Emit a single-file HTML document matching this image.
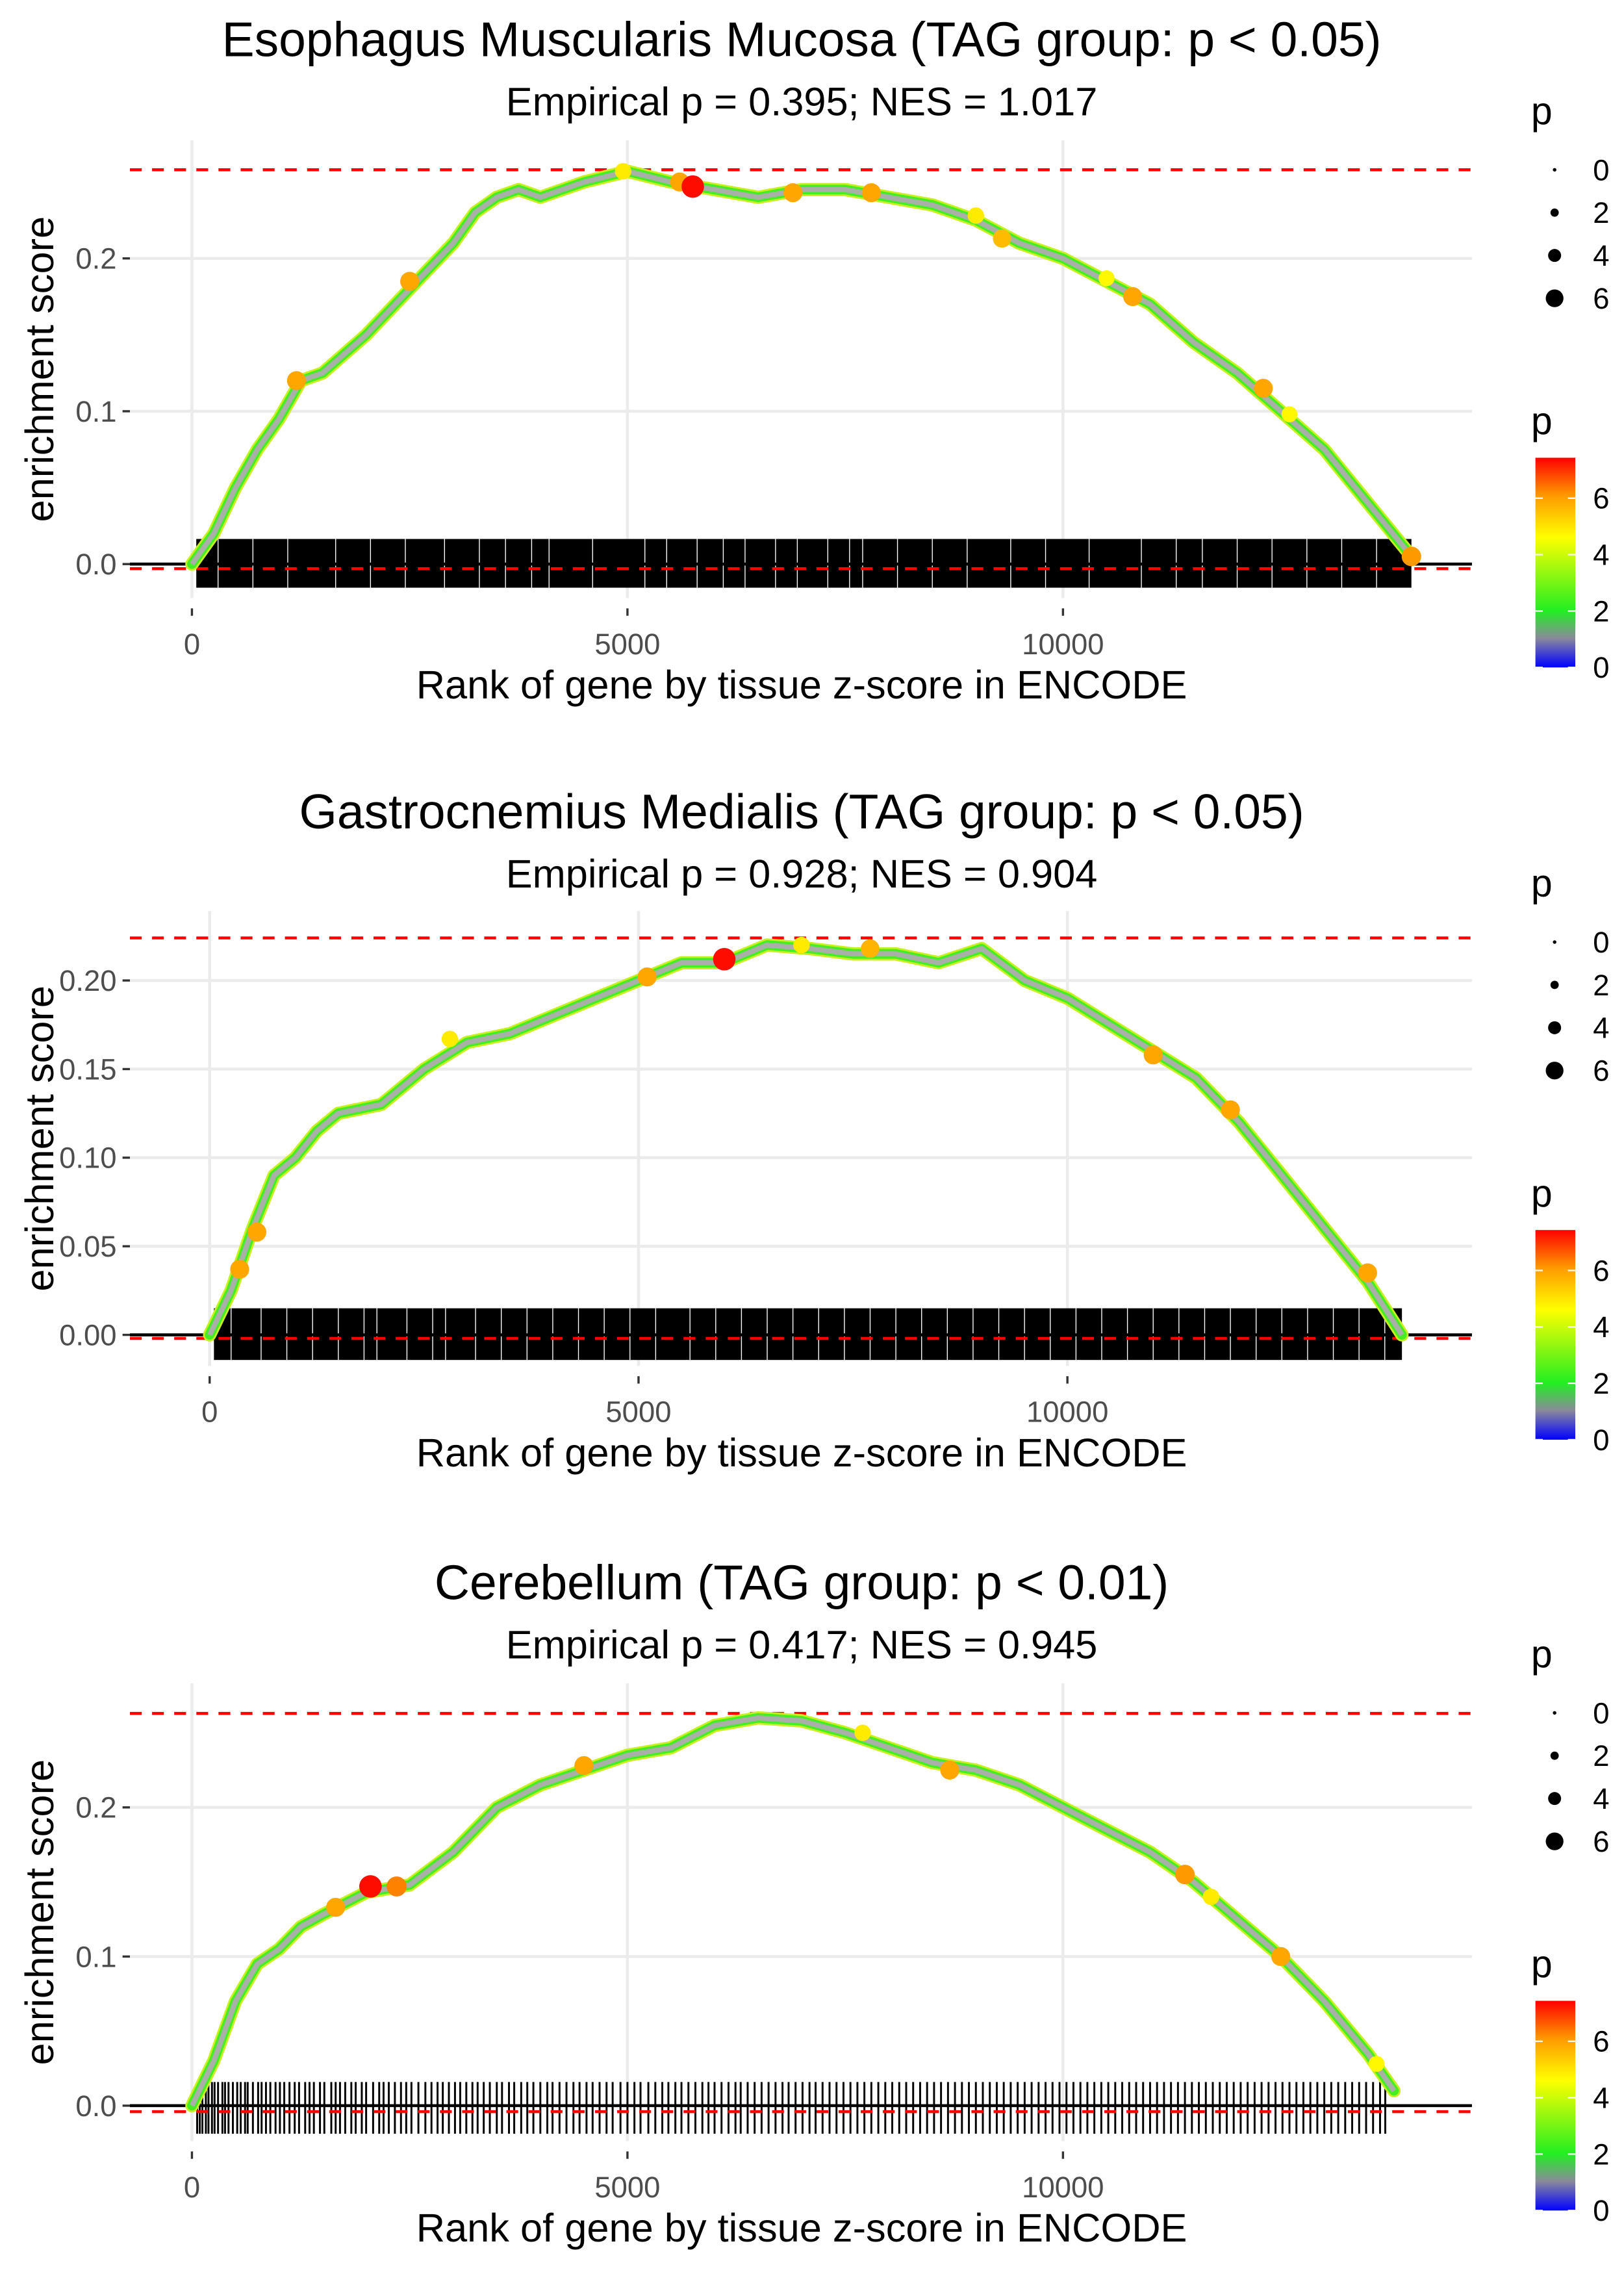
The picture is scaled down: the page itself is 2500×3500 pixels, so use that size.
<!DOCTYPE html>
<html><head><meta charset="utf-8"><style>
html,body{margin:0;padding:0;background:#fff;}
svg{display:block;font-family:"Liberation Sans",sans-serif;}
</style></head><body>
<svg id="chart" width="2500" height="3500" viewBox="0 0 1100 1540" preserveAspectRatio="none" xmlns="http://www.w3.org/2000/svg">
<defs>
<linearGradient id="pgrad" x1="0" y1="0" x2="0" y2="1">
<stop offset="0" stop-color="#ff0000"/><stop offset="0.18" stop-color="#ff9900"/><stop offset="0.38" stop-color="#ffff00"/><stop offset="0.73" stop-color="#22ee22"/><stop offset="0.86" stop-color="#8a8a9a"/><stop offset="1" stop-color="#0000ff"/>
</linearGradient>
</defs>
</svg>
<script>
// ---- Panel 1 data ----
const ranks1=[0,250,500,750,1000,1250,1500,2000,2500,3000,3250,3500,3750,4000,4500,5000,5500,6000,6500,7000,7500,8000,8500,9000,9500,10000,10500,11000,11500,12000,12500,13000,13500,14000];
const es1=[0,0.02,0.05,0.075,0.095,0.12,0.125,0.15,0.18,0.21,0.23,0.24,0.245,0.24,0.25,0.257,0.25,0.245,0.24,0.245,0.245,0.24,0.235,0.225,0.21,0.2,0.185,0.17,0.145,0.125,0.1,0.075,0.04,0.005];
const hiRank1=[1200,2500,4950,5600,5750,6900,7800,9000,9300,10500,10800,12300,12600,14000];
const hiEs1=[0.12,0.185,0.257,0.25,0.247,0.243,0.243,0.228,0.213,0.187,0.175,0.115,0.098,0.005];
const hiP1=[5.8,5.8,4.8,5.8,7.2,5.8,5.8,4.8,5.5,4.6,5.8,5.8,4.6,6];
const rugGaps1=[300,700,1100,1650,2050,2450,2900,3300,3600,3900,4100,4600,5200,5450,5800,6100,6350,6700,6950,7300,7550,7700,8100,8500,8900,9400,9800,10300,10900,11300,11600,12000,12400,12800,13200,13600];
const yTicks1=[0,0.1,0.2];
const yLabels1=["0.0","0.1","0.2"];
const maxEs1=0.258, minEs1=-0.003;
// ---- Panel 2 data ----
const ranks2=[0,250,500,750,1000,1250,1500,2000,2500,3000,3500,4000,4500,5000,5500,6000,6500,7000,7500,8000,8500,9000,9500,10000,10500,11000,11500,12000,12500,13000,13500,13900];
const es2=[0,0.025,0.06,0.09,0.1,0.115,0.125,0.13,0.15,0.165,0.17,0.18,0.19,0.2,0.21,0.21,0.22,0.218,0.215,0.215,0.21,0.218,0.2,0.19,0.175,0.16,0.145,0.12,0.09,0.06,0.03,0];
const hiRank2=[350,550,2800,5100,6000,6900,7700,11000,11900,13500];
const hiEs2=[0.037,0.058,0.167,0.202,0.212,0.22,0.218,0.158,0.127,0.035];
const hiP2=[5.8,5.8,4.8,5.8,7.2,4.8,5.6,5.8,5.8,5.8];
const rugGaps2=[250,600,900,1200,1500,1800,1950,2300,2600,2750,3100,3400,3700,4000,4300,4600,4900,5200,5600,5900,6200,6500,6800,7100,7400,7700,8000,8300,8600,8900,9200,9500,9800,10100,10400,10700,11000,11300,11600,11900,12200,12500,12800,13100,13400,13700];
const yTicks2=[0,0.05,0.1,0.15,0.2];
const yLabels2=["0.00","0.05","0.10","0.15","0.20"];
const maxEs2=0.224, minEs2=-0.002;
// ---- Panel 3 data ----
const ranks3=[0,250,500,750,1000,1250,1500,2000,2500,3000,3500,4000,4500,5000,5500,6000,6500,7000,7500,8000,8500,9000,9500,10000,10500,11000,11500,12000,12500,13000,13500,13800];
const es3=[0,0.03,0.07,0.095,0.105,0.12,0.128,0.143,0.148,0.17,0.2,0.215,0.225,0.235,0.24,0.255,0.26,0.258,0.25,0.24,0.23,0.225,0.215,0.2,0.185,0.17,0.15,0.125,0.1,0.07,0.035,0.01];
const hiRank3=[1650,2050,2350,4500,7700,8700,11400,11700,12500,13600];
const hiEs3=[0.133,0.147,0.147,0.228,0.25,0.225,0.155,0.14,0.1,0.028];
const hiP3=[5.8,7.2,6.2,5.8,4.8,5.8,6,4.8,5.8,4.6];
const rug3=[60,90,120,160,190,230,260,300,350,380,420,470,520,560,610,640,700,760,800,850,900,960,1010,1060,1120,1180,1230,1300,1350,1400,1470,1520,1600,1650,1700,1760,1830,1880,1950,2000,2080,2150,2200,2260,2330,2400,2460,2520,2600,2680,2750,2820,2880,2950,3020,3080,3150,3220,3280,3350,3420,3500,3560,3640,3700,3780,3850,3920,4000,4080,4140,4220,4300,4380,4450,4530,4600,4680,4760,4830,4920,5000,5080,5150,5240,5320,5400,5470,5550,5620,5700,5780,5860,5930,6000,6080,6160,6240,6300,6380,6460,6540,6620,6700,6780,6850,6930,7010,7090,7160,7240,7320,7400,7480,7560,7640,7720,7800,7880,7960,8040,8120,8200,8280,8360,8440,8520,8600,8680,8760,8840,8920,9000,9080,9160,9240,9320,9400,9480,9560,9640,9720,9800,9880,9960,10040,10120,10200,10280,10360,10440,10520,10600,10680,10760,10840,10920,11000,11080,11160,11240,11320,11400,11480,11560,11640,11720,11800,11880,11960,12040,12120,12200,12280,12360,12440,12520,12600,12680,12760,12840,12920,13000,13080,13160,13240,13320,13400,13480,13560,13640,13700];
const yTicks3=[0,0.1,0.2];
const yLabels3=["0.0","0.1","0.2"];
const maxEs3=0.263, minEs3=-0.004;
const xTicks=[0,5000,10000];
const xLabels=["0","5000","10000"];
const titles=["Esophagus Muscularis Mucosa (TAG group: p < 0.05)","Gastrocnemius Medialis (TAG group: p < 0.05)","Cerebellum (TAG group: p < 0.01)"];
const subtitles=["Empirical p = 0.395; NES = 1.017","Empirical p = 0.928; NES = 0.904","Empirical p = 0.417; NES = 0.945"];

const NS="http://www.w3.org/2000/svg";
const svg=document.getElementById('chart');
function mk(tag,attrs,parent,txt){const e=document.createElementNS(NS,tag);for(const k in attrs)e.setAttribute(k,attrs[k]);if(txt!==undefined)e.textContent=txt;(parent||svg).appendChild(e);return e;}
function pColor(p){
  const stops=[[0,[0,0,255]],[1,[138,138,154]],[2,[34,238,34]],[4.5,[255,255,0]],[6,[255,153,0]],[7.3,[255,0,0]]];
  for(let i=1;i<stops.length;i++){if(p<=stops[i][0]){const a=stops[i-1],b=stops[i],t=(p-a[0])/(b[0]-a[0]);return 'rgb('+a[1].map((v,j)=>Math.round(v+(b[1][j]-v)*t)).join(',')+')';}}
  return 'rgb(255,0,0)';
}
const panels=[
 {dy:0,x0:130,xs:0.059,y0:382,ys:1035,top:95,bot:405,rugT:365,rugB:398,ranks:ranks1,es:es1,hr:hiRank1,he:hiEs1,hp:hiP1,gaps:rugGaps1,rug:null,yt:yTicks1,yl:yLabels1,mx:maxEs1,mn:minEs1,rugEnd:14000},
 {dy:523,x0:142,xs:0.0581,y0:904,ys:1200,top:617,bot:925,rugT:886,rugB:921,ranks:ranks2,es:es2,hr:hiRank2,he:hiEs2,hp:hiP2,gaps:rugGaps2,rug:null,yt:yTicks2,yl:yLabels2,mx:maxEs2,mn:minEs2,rugEnd:13900},
 {dy:1045,x0:130,xs:0.059,y0:1426,ys:1010,top:1140,bot:1450,rugT:1410,rugB:1445,ranks:ranks3,es:es3,hr:hiRank3,he:hiEs3,hp:hiP3,gaps:null,rug:rug3,yt:yTicks3,yl:yLabels3,mx:maxEs3,mn:minEs3,rugEnd:13800}
];
panels.forEach((P,i)=>{
  const g=mk('g',{});
  
  
  const X=r=>P.x0+r*P.xs, Y=v=>P.y0-v*P.ys;
  const t=mk('text',{x:543,y:38+P.dy,'text-anchor':'middle','font-size':33,fill:'#000'},g,titles[i]);
  
  
  const st=mk('text',{x:543,y:78+P.dy,'text-anchor':'middle','font-size':27,fill:'#000'},g,subtitles[i]);
  
  
  P.yt.forEach((v,k)=>{
    const gl=mk('line',{x1:88,x2:997,y1:Y(v),y2:Y(v),stroke:'#ebebeb','stroke-width':2},g);
    
    
    const tk=mk('line',{x1:83,x2:88,y1:Y(v),y2:Y(v),stroke:'#333','stroke-width':1.5},g);
    
    
    const tl=mk('text',{x:79,y:Y(v)+7,'text-anchor':'end','font-size':20,fill:'#4d4d4d'},g,P.yl[k]);
    
    
  });
  xTicks.forEach((v,k)=>{
    const gl=mk('line',{x1:X(v),x2:X(v),y1:P.top,y2:P.bot,stroke:'#ebebeb','stroke-width':2},g);
    
    
    const tk=mk('line',{x1:X(v),x2:X(v),y1:P.bot+7,y2:P.bot+12,stroke:'#333','stroke-width':1.5},g);
    
    
    const tl=mk('text',{x:X(v),y:P.bot+38,'text-anchor':'middle','font-size':20,fill:'#4d4d4d'},g,xLabels[k]);
    
    
  });
  const xt=mk('text',{x:543,y:P.bot+68,'text-anchor':'middle','font-size':27,fill:'#000'},g,'Rank of gene by tissue z-score in ENCODE');
  
  
  const cy=(P.top+P.bot)/2;
  const yt=mk('text',{x:0,y:0,transform:'translate(36,'+cy+') rotate(-90)','text-anchor':'middle','font-size':27,fill:'#000'},g,'enrichment score');
  
  
  if(P.gaps){
    const rr=mk('rect',{x:X(50),y:P.rugT,width:X(P.rugEnd)-X(50),height:P.rugB-P.rugT,fill:'#000'},g);
    
    
    P.gaps.forEach(r=>{
      const l=mk('line',{x1:X(r),x2:X(r),y1:P.rugT,y2:P.rugB,stroke:'#fff','stroke-width':0.6},g);
      
      
    });
  } else {
    P.rug.forEach(r=>{
      const l=mk('line',{x1:X(r),x2:X(r),y1:P.rugT,y2:P.rugB,stroke:'#000','stroke-width':1.3},g);
      
      
    });
  }
  const zl=mk('line',{x1:88,x2:997,y1:Y(0),y2:Y(0),stroke:'#000','stroke-width':2},g);
  
  
  const mxl=mk('line',{x1:88,x2:997,y1:Y(P.mx),y2:Y(P.mx),stroke:'#ff0000','stroke-width':2,'stroke-dasharray':'8,7'},g);
  
  
  const mnl=mk('line',{x1:88,x2:997,y1:Y(P.mn),y2:Y(P.mn),stroke:'#ff0000','stroke-width':2,'stroke-dasharray':'8,7'},g);
  
  
  const pts=P.ranks.map((r,k)=>X(r).toFixed(1)+','+Y(P.es[k]).toFixed(1)).join(' ');
  const c0=mk('polyline',{points:pts,fill:'none',stroke:'#c8f020','stroke-width':9,'stroke-linejoin':'round','stroke-linecap':'round'},g);
  
  
  const c1=mk('polyline',{points:pts,fill:'none',stroke:'#44ee22','stroke-width':6.5,'stroke-linejoin':'round','stroke-linecap':'round'},g);
  
  
  const c2=mk('polyline',{points:pts,fill:'none',stroke:'#a8b0a8','stroke-width':3.5,'stroke-linejoin':'round'},g);
  
  
  P.hr.forEach((r,k)=>{
    const c=mk('circle',{cx:X(r),cy:Y(P.he[k]),r:1.5+P.hp[k]*0.85,fill:pColor(P.hp[k])},g);
    
    
  });
  const d=P.dy;
  const lg=mk('g',{},g);
  
  
  mk('text',{x:1037,y:84+d,'font-size':26,fill:'#000'},lg,'p');
  [0,2,4,6].forEach((v,k)=>{
    mk('circle',{cx:1053,cy:115+k*29+d,r:1.2+v*0.8,fill:'#000'},lg);
    mk('text',{x:1079,y:122+k*29+d,'font-size':20,fill:'#000'},lg,String(v));
  });
  const cg=mk('g',{},g);
  
  
  mk('text',{x:1037,y:294+d,'font-size':26,fill:'#000'},cg,'p');
  mk('rect',{x:1040,y:310+d,width:27,height:142,fill:'url(#pgrad)'},cg);
  [6,4,2,0].forEach(v=>{
    const yy=452+d-v*19.1;
    mk('line',{x1:1040,x2:1045,y1:yy,y2:yy,stroke:'#fff','stroke-width':1},cg);
    mk('line',{x1:1062,x2:1067,y1:yy,y2:yy,stroke:'#fff','stroke-width':1},cg);
    mk('text',{x:1079,y:yy+7,'font-size':20,fill:'#000'},cg,String(v));
  });
});
</script>
</body></html>
